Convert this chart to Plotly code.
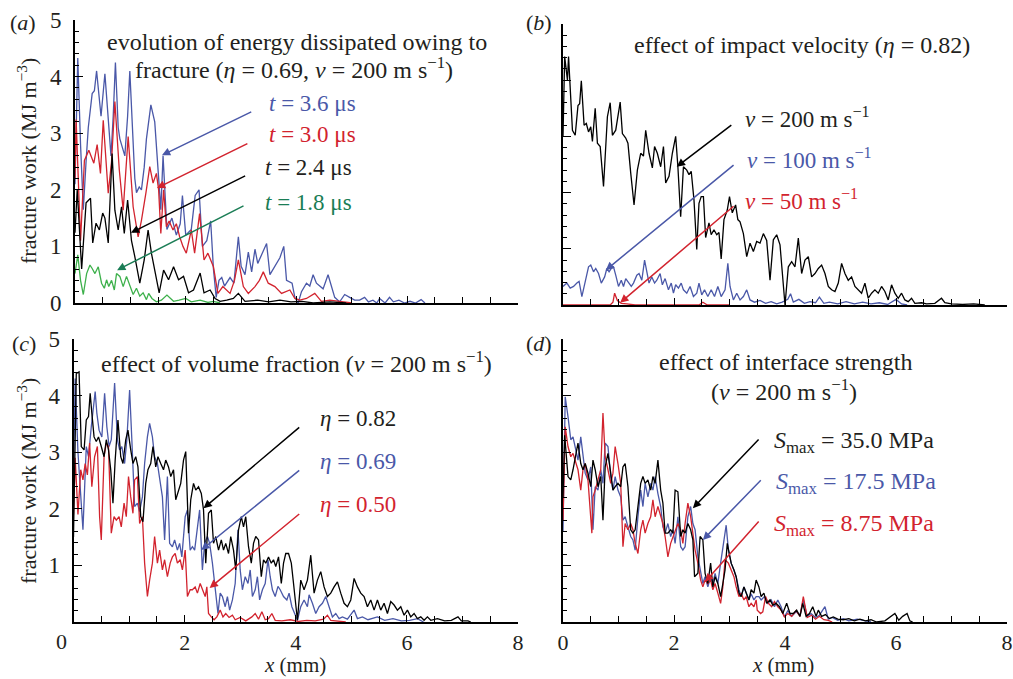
import plotly.graph_objects as go

FONT = "Liberation Serif, Times New Roman, serif"
TXT = "#231f20"
BLUE = "#4a58a8"
RED = "#d2232e"
BLACK = "#000000"
GREEN_LINE = "#3db04b"
GREEN_DARK = "#1a7d55"

W, H = 1013, 679

# ---------------- data (x in mm, fracture work in MJ m^-3) ----------------
# panel (a): eta = 0.69, v = 200 m/s, different times
A_T36 = [(0,2.1),(0.05,4.33),(0.10,2.8),(0.15,1.65),(0.20,2.5),(0.24,3.1),(0.31,3.7),(0.35,3.75),(0.39,4.1),(0.44,3.6),
         (0.47,3.3),(0.54,4.05),(0.60,3.2),(0.65,2.6),(0.69,3.3),(0.73,4.25),(0.78,3.1),(0.81,2.9),(0.90,2.6),(0.95,3.3),
         (0.99,4.1),(1.04,2.9),(1.08,2.2),(1.11,1.95),(1.16,2.05),(1.20,2.0),(1.25,2.4),(1.29,2.9),(1.37,3.5),(1.44,3.2),
         (1.50,2.4),(1.55,1.65),(1.59,2.6),(1.66,1.3),(1.75,1.5),(1.83,1.2),(1.90,1.4),(1.94,1.9),(2.00,1.2),(2.05,1.25),
         (2.10,1.3),(2.17,1.9),(2.24,2.0),(2.30,1.0),(2.38,1.1),(2.45,1.45),(2.50,0.6),(2.55,0.1),(2.60,0.4),(2.65,0.45),
         (2.70,0.3),(2.80,0.45),(2.87,0.35),(2.95,1.17),(3.00,0.65),(3.07,0.5),(3.13,0.9),(3.19,0.55),(3.25,0.95),(3.30,0.7),
         (3.37,0.85),(3.46,1.05),(3.52,0.5),(3.61,0.65),(3.70,0.8),(3.77,1.0),(3.82,0.4),(3.92,0.35),(3.97,0.1),(4.03,0.0),
         (4.09,0.2),(4.18,0.35),(4.24,0.3),(4.30,0.5),(4.36,0.35),(4.42,0.3),(4.48,0.25),(4.57,0.5),(4.63,0.3),(4.69,0.1),
         (4.78,0.02),(4.87,0.15),(4.96,0.1),(5.05,0.05),(5.14,0.05),(5.23,0.1),(5.30,0.02),(5.38,0.05),(5.45,0.0),(5.50,0.08),
         (5.60,0.0),(5.68,0.1),(5.75,0.02),(5.85,0.05),(5.95,0.0),(6.05,0.03),(6.15,0.0),(6.25,0.06),(6.32,0.0)]
A_T30 = [(0,2.2),(0.02,3.24),(0.10,1.1),(0.17,2.52),(0.25,2.7),(0.34,2.47),(0.40,2.8),(0.46,2.29),(0.51,3.23),(0.60,1.94),
         (0.66,2.5),(0.72,3.56),(0.80,2.35),(0.87,1.64),(0.96,2.94),(1.05,1.7),(1.14,1.17),(1.20,1.46),(1.28,1.94),(1.35,2.41),
         (1.41,2.12),(1.47,2.29),(1.51,2.0),(1.55,1.23),(1.60,2.0),(1.65,1.35),(1.70,1.45),(1.77,1.29),(1.83,1.4),(1.89,1.17),
         (1.95,1.0),(2.01,0.88),(2.10,1.29),(2.16,0.88),(2.25,1.58),(2.33,0.76),(2.40,0.88),(2.50,0.64),(2.58,0.17),(2.67,0.29),
         (2.80,0.17),(2.88,0.4),(2.95,0.76),(3.04,0.29),(3.13,0.17),(3.25,0.29),(3.33,0.4),(3.40,0.55),(3.49,0.35),(3.61,0.29),
         (3.73,0.17),(3.88,0.23),(3.97,0.08),(4.06,0.05),(4.18,0.08),(4.33,0.17),(4.45,0.03),(4.60,0.05),(4.78,0.03),(4.90,0.02),
         (5.00,0.0)]
A_T24 = [(0,1.24),(0.04,2.0),(0.12,0.6),(0.20,1.77),(0.28,1.85),(0.32,1.06),(0.38,1.41),(0.44,1.29),(0.50,1.59),(0.54,1.5),
         (0.60,1.06),(0.67,2.64),(0.72,1.64),(0.78,1.29),(0.84,1.7),(0.89,1.23),(0.95,1.82),(1.02,1.1),(1.08,0.82),(1.17,0.35),
         (1.25,0.76),(1.32,1.29),(1.38,0.88),(1.46,0.47),(1.52,0.18),(1.60,0.58),(1.69,0.41),(1.78,0.64),(1.87,0.41),(1.96,0.47),
         (2.05,0.18),(2.14,0.23),(2.26,0.53),(2.33,0.18),(2.44,0.23),(2.53,0.08),(2.62,0.03),(2.74,0.05),(2.86,0.08),(2.95,0.17),
         (3.07,0.03),(3.30,0.05),(3.50,0.02),(3.70,0.05),(3.90,0.02),(4.10,0.03),(4.30,0.0),(4.60,0.02),(4.90,0.0)]
A_T18 = [(0,0.52),(0.05,0.85),(0.10,0.4),(0.15,0.15),(0.21,0.52),(0.27,0.67),(0.31,0.61),(0.36,0.52),(0.42,0.64),(0.48,0.35),
         (0.53,0.26),(0.57,0.41),(0.61,0.29),(0.66,0.4),(0.71,0.23),(0.75,0.52),(0.81,0.47),(0.87,0.29),(0.93,0.47),(0.99,0.29),
         (1.05,0.15),(1.11,0.26),(1.17,0.12),(1.23,0.18),(1.29,0.06),(1.33,0.17),(1.39,0.08),(1.47,0.02),(1.56,0.05),(1.66,0.14),
         (1.78,0.03),(1.88,0.05),(2.00,0.08),(2.10,0.02),(2.26,0.05),(2.40,0.01),(2.50,0.03),(2.62,0.0)]

# panel (b): eta = 0.82, different impact velocities
B_V200 = [(0,3.0),(0.03,4.42),(0.08,4.0),(0.10,4.42),(0.17,3.11),(0.22,3.02),(0.27,3.55),(0.30,3.58),(0.33,3.99),(0.38,3.2),
          (0.42,3.23),(0.46,3.08),(0.50,3.17),(0.53,2.91),(0.58,3.5),(0.62,2.88),(0.67,2.82),(0.73,2.11),(0.80,3.35),(0.85,3.6),
          (0.89,3.02),(0.95,3.11),(1.03,3.61),(1.07,3.05),(1.13,2.97),(1.17,2.88),(1.22,2.35),(1.28,1.78),(1.34,2.4),(1.40,2.7),
          (1.45,2.65),(1.49,3.11),(1.55,2.7),(1.61,2.44),(1.65,2.82),(1.70,2.7),(1.76,2.46),(1.81,2.82),(1.85,2.17),(1.91,2.29),
          (1.97,2.7),(2.03,3.0),(2.07,2.46),(2.12,1.57),(2.17,2.46),(2.23,2.4),(2.27,2.32),(2.31,2.38),(2.36,1.87),(2.41,0.99),
          (2.45,1.81),(2.49,1.93),(2.53,1.93),(2.57,1.2),(2.63,1.46),(2.67,1.25),(2.72,1.34),(2.77,1.25),(2.81,1.29),(2.85,0.82),
          (2.90,1.52),(2.96,1.69),(3.00,1.93),(3.05,1.64),(3.11,1.78),(3.15,1.52),(3.19,1.48),(3.25,1.27),(3.31,0.86),(3.37,1.1),
          (3.43,0.95),(3.49,1.13),(3.55,1.1),(3.61,1.27),(3.67,1.15),(3.73,0.44),(3.79,1.16),(3.85,1.25),(3.91,1.07),(4.00,0.0),
          (4.06,0.68),(4.12,0.77),(4.18,0.68),(4.24,1.19),(4.30,0.56),(4.36,0.8),(4.42,0.86),(4.48,0.5),(4.54,0.56),(4.60,0.65),
          (4.66,0.71),(4.72,0.56),(4.78,0.33),(4.84,0.27),(4.90,0.24),(4.96,0.39),(5.02,0.74),(5.08,0.56),(5.14,0.44),(5.20,0.5),
          (5.26,0.33),(5.32,0.27),(5.38,0.21),(5.44,0.39),(5.50,0.12),(5.56,0.21),(5.62,0.27),(5.68,0.21),(5.74,0.33),(5.80,0.24),
          (5.86,0.09),(5.92,0.36),(5.98,0.21),(6.04,0.12),(6.10,0.21),(6.16,0.09),(6.22,0.06),(6.28,0.12),(6.34,0.03),(6.46,0.04),
          (6.55,0.02),(6.70,0.03),(6.82,0.12),(6.88,0.04),(7.00,0.02),(7.20,0.01),(7.40,0.02),(7.60,0.0)]
B_V100 = [(0,0.33),(0.07,0.39),(0.13,0.3),(0.19,0.33),(0.25,0.39),(0.29,0.42),(0.34,0.15),(0.40,0.39),(0.46,0.68),(0.50,0.71),
          (0.55,0.59),(0.59,0.65),(0.64,0.56),(0.69,0.39),(0.75,0.5),(0.79,0.65),(0.83,0.59),(0.87,0.65),(0.91,0.68),(0.95,0.53),
          (1.00,0.33),(1.05,0.44),(1.09,0.33),(1.13,0.47),(1.18,0.39),(1.23,0.33),(1.27,0.39),(1.33,0.53),(1.37,0.56),(1.42,0.44),
          (1.47,0.8),(1.51,0.56),(1.55,0.39),(1.60,0.5),(1.65,0.39),(1.69,0.44),(1.75,0.56),(1.79,0.36),(1.84,0.47),(1.90,0.27),
          (1.95,0.39),(1.99,0.21),(2.03,0.36),(2.08,0.3),(2.13,0.39),(2.17,0.27),(2.23,0.21),(2.29,0.33),(2.35,0.15),(2.41,0.21),
          (2.45,0.39),(2.50,0.18),(2.55,0.27),(2.61,0.15),(2.67,0.27),(2.73,0.15),(2.79,0.33),(2.85,0.15),(2.92,0.27),(2.97,0.74),
          (3.01,0.33),(3.07,0.09),(3.13,0.21),(3.19,0.09),(3.25,0.15),(3.31,0.27),(3.37,0.09),(3.45,0.05),(3.55,0.08),(3.65,0.03),
          (3.75,0.06),(3.85,0.02),(3.95,0.05),(4.05,0.1),(4.10,0.2),(4.15,0.05),(4.25,0.1),(4.35,0.03),(4.45,0.06),(4.55,0.04),
          (4.62,0.14),(4.70,0.03),(4.80,0.05),(4.95,0.02),(5.10,0.06),(5.25,0.02),(5.40,0.05),(5.55,0.02),(5.70,0.04),(5.85,0.01),
          (6.00,0.1),(6.10,0.02),(6.20,0.0)]
B_V50 = [(0,0.0),(0.85,0.0),(0.90,0.05),(0.93,0.21),(0.98,0.08),(1.05,0.03),(1.15,0.02),(1.30,0.0),(2.45,0.0),(2.52,0.05),
         (2.60,0.0),(3.00,0.0)]

# panel (c): v = 200 m/s, different volume fractions
C_E82 = [(0,1.5),(0.05,4.39),(0.10,4.42),(0.14,3.1),(0.19,3.04),(0.23,3.57),(0.27,3.63),(0.30,4.04),(0.33,3.69),(0.37,3.27),
         (0.41,3.19),(0.45,3.27),(0.50,3.1),(0.55,2.92),(0.59,3.22),(0.63,3.04),(0.67,2.69),(0.71,2.1),(0.75,2.86),(0.80,3.57),
         (0.85,2.92),(0.89,2.8),(0.94,3.22),(0.98,3.39),(1.03,3.04),(1.07,2.8),(1.12,2.92),(1.16,2.74),(1.21,1.86),(1.25,1.77),
         (1.30,2.45),(1.34,2.69),(1.39,2.8),(1.43,3.1),(1.48,2.74),(1.52,2.92),(1.57,2.8),(1.62,2.69),(1.66,2.86),(1.71,2.74),
         (1.75,2.57),(1.80,2.69),(1.84,2.16),(1.89,2.33),(1.93,2.45),(1.98,2.86),(2.02,3.01),(2.07,1.57),(2.11,2.16),(2.16,2.45),
         (2.20,2.33),(2.25,2.39),(2.30,2.27),(2.34,1.98),(2.38,1.04),(2.43,1.92),(2.48,1.98),(2.52,1.39),(2.56,1.51),(2.61,1.27),
         (2.66,1.45),(2.70,1.27),(2.74,1.39),(2.79,1.21),(2.83,1.51),(2.88,1.27),(2.92,0.92),(2.97,1.63),(3.02,1.86),(3.06,1.68),
         (3.10,1.86),(3.15,1.33),(3.20,1.04),(3.24,1.39),(3.28,1.51),(3.33,1.45),(3.38,0.8),(3.42,1.1),(3.46,1.04),(3.51,1.15),
         (3.56,1.04),(3.60,1.1),(3.64,0.98),(3.69,1.15),(3.74,0.68),(3.78,1.04),(3.82,1.21),(3.87,1.21),(3.92,1.04),(3.96,0.68),
         (4.03,0.03),(4.09,0.74),(4.15,0.57),(4.21,0.74),(4.27,1.18),(4.33,0.51),(4.39,0.74),(4.45,0.89),(4.51,0.62),(4.57,0.45),
         (4.63,0.51),(4.69,0.62),(4.75,0.71),(4.81,0.51),(4.87,0.33),(4.93,0.27),(4.99,0.39),(5.05,0.77),(5.11,0.62),(5.17,0.51),
         (5.23,0.45),(5.29,0.27),(5.35,0.39),(5.41,0.21),(5.47,0.39),(5.53,0.21),(5.59,0.33),(5.65,0.15),(5.71,0.36),(5.77,0.3),
         (5.83,0.21),(5.89,0.27),(5.95,0.12),(6.01,0.21),(6.07,0.09),(6.13,0.15),(6.19,0.06),(6.25,0.09),(6.31,0.03),(6.37,0.09),
         (6.43,0.03),(6.55,0.06),(6.68,0.02),(6.80,0.03),(6.92,0.09),(6.98,0.02),(7.10,0.02),(7.15,0.0)]
C_E69 = [(0,2.5),(0.03,4.3),(0.08,3.0),(0.17,1.63),(0.23,3.1),(0.27,2.92),(0.32,3.45),(0.39,4.07),(0.42,3.69),(0.46,3.39),
         (0.51,3.27),(0.56,4.04),(0.60,3.45),(0.64,3.1),(0.68,3.22),(0.74,4.22),(0.79,3.22),(0.83,3.04),(0.87,3.1),(0.92,2.8),
         (0.96,3.22),(1.01,4.1),(1.05,3.22),(1.10,2.04),(1.15,2.1),(1.19,1.95),(1.24,2.21),(1.28,2.8),(1.33,3.27),(1.37,3.51),
         (1.42,3.27),(1.46,2.92),(1.51,2.8),(1.55,2.51),(1.60,2.21),(1.64,1.45),(1.69,2.57),(1.73,1.39),(1.78,1.33),(1.82,1.45),
         (1.87,1.27),(1.91,1.39),(1.95,1.15),(2.01,1.86),(2.05,1.98),(2.10,1.27),(2.14,1.33),(2.18,1.27),(2.23,1.63),(2.27,1.98),
         (2.32,0.92),(2.36,1.39),(2.41,1.51),(2.45,1.39),(2.50,1.04),(2.55,0.57),(2.60,0.15),(2.64,0.51),(2.68,0.45),(2.73,0.27),
         (2.77,0.45),(2.81,0.21),(2.86,0.39),(2.91,0.68),(2.96,1.63),(3.00,0.92),(3.04,0.57),(3.09,0.8),(3.14,0.68),(3.18,0.92),
         (3.22,0.45),(3.27,0.57),(3.31,0.8),(3.35,0.39),(3.40,0.57),(3.45,0.68),(3.50,1.1),(3.54,0.8),(3.58,0.57),(3.63,0.45),
         (3.68,0.63),(3.72,0.57),(3.78,0.45),(3.84,0.39),(3.88,0.51),(3.93,0.27),(4.00,0.09),(4.03,0.03),(4.09,0.27),(4.15,0.39),
         (4.21,0.27),(4.24,0.48),(4.30,0.33),(4.36,0.15),(4.42,0.27),(4.48,0.33),(4.54,0.45),(4.60,0.27),(4.66,0.09),(4.72,0.15),
         (4.78,0.06),(4.84,0.09),(4.93,0.05),(5.05,0.21),(5.11,0.06),(5.20,0.09),(5.30,0.04),(5.47,0.09),(5.60,0.03),(5.75,0.06),
         (5.90,0.02),(6.05,0.03),(6.19,0.06),(6.30,0.0)]
C_E50 = [(0,1.9),(0.03,2.9),(0.08,1.9),(0.13,2.69),(0.17,2.51),(0.21,2.8),(0.25,2.6),(0.29,3.16),(0.33,2.39),(0.38,2.92),
         (0.43,3.1),(0.47,1.86),(0.50,1.45),(0.55,2.92),(0.59,3.16),(0.63,3.1),(0.68,1.57),(0.73,1.86),(0.77,1.8),(0.82,1.86),
         (0.86,1.68),(0.91,2.1),(0.95,1.86),(0.99,2.57),(1.03,2.21),(1.07,1.92),(1.10,2.51),(1.15,2.57),(1.19,1.74),(1.24,1.86),
         (1.28,1.04),(1.33,0.45),(1.37,0.74),(1.42,1.04),(1.46,1.51),(1.51,1.04),(1.55,1.27),(1.60,0.92),(1.64,1.1),(1.69,0.8),
         (1.74,1.04),(1.78,1.15),(1.83,1.21),(1.87,1.04),(1.92,1.1),(1.96,0.92),(2.01,1.27),(2.05,0.45),(2.10,0.57),(2.14,0.57),
         (2.19,0.62),(2.23,0.51),(2.28,0.68),(2.32,0.57),(2.37,0.45),(2.40,0.62),(2.43,0.15),(2.48,0.09),(2.53,0.04),(2.58,0.09),
         (2.64,0.21),(2.69,0.09),(2.74,0.15),(2.80,0.08),(2.86,0.12),(2.91,0.04),(3.00,0.08),(3.10,0.02),(3.21,0.09),(3.27,0.15),
         (3.33,0.05),(3.39,0.18),(3.45,0.04),(3.51,0.06),(3.57,0.15),(3.63,0.03),(3.75,0.02),(3.90,0.04),(4.05,0.01),(4.20,0.03),
         (4.35,0.02),(4.50,0.05),(4.57,0.12),(4.63,0.03),(4.75,0.02),(4.90,0.0)]

# panel (d): v = 200 m/s, different interface strengths
D_S35 = [(0,2.2),(0.03,3.3),(0.09,2.57),(0.14,2.51),(0.18,2.69),(0.22,2.92),(0.27,3.16),(0.32,2.8),(0.36,2.69),(0.40,2.8),
         (0.45,2.63),(0.50,2.39),(0.54,2.86),(0.58,2.69),(0.63,2.39),(0.68,2.57),(0.72,1.8),(0.76,2.74),(0.81,2.98),(0.86,2.63),
         (0.90,2.33),(0.94,2.39),(0.99,2.45),(1.04,2.39),(1.08,2.74),(1.12,2.8),(1.17,2.39),(1.22,1.63),(1.26,1.57),(1.30,1.63),
         (1.35,2.1),(1.40,2.45),(1.44,2.57),(1.48,2.45),(1.53,2.51),(1.58,2.33),(1.62,2.57),(1.66,2.45),(1.71,2.86),(1.76,2.33),
         (1.80,2.1),(1.84,1.57),(1.89,1.57),(1.94,1.63),(1.98,1.57),(2.02,2.33),(2.07,2.3),(2.12,1.51),(2.16,1.63),(2.20,1.57),
         (2.25,1.74),(2.30,1.63),(2.34,1.45),(2.37,0.8),(2.43,0.86),(2.47,1.51),(2.52,1.45),(2.56,0.86),(2.61,0.68),(2.66,1.04),
         (2.70,0.62),(2.74,0.8),(2.79,0.68),(2.84,0.45),(2.88,0.68),(2.92,0.92),(2.96,1.39),(3.03,1.04),(3.08,0.92),(3.12,0.8),
         (3.17,0.51),(3.21,0.45),(3.26,0.62),(3.30,0.51),(3.35,0.39),(3.39,0.57),(3.44,0.51),(3.48,0.74),(3.53,0.62),(3.57,0.45),
         (3.62,0.51),(3.67,0.33),(3.73,0.39),(3.78,0.3),(3.84,0.33),(3.90,0.27),(3.96,0.15),(4.03,0.33),(4.09,0.15),(4.15,0.15),
         (4.21,0.21),(4.27,0.1),(4.32,0.33),(4.38,0.1),(4.44,0.15),(4.50,0.27),(4.56,0.1),(4.60,0.21),(4.66,0.1),(4.73,0.13),
         (4.80,0.06),(4.87,0.09),(4.95,0.05),(5.05,0.04),(5.15,0.06),(5.25,0.02),(5.35,0.05),(5.45,0.02),(5.55,0.04),(5.65,0.0),
         (5.80,0.02),(5.98,0.15),(6.05,0.03),(6.12,0.1),(6.20,0.15),(6.25,0.02),(6.30,0.0)]
D_S175 = [(0,1.6),(0.04,3.98),(0.09,3.63),(0.14,3.22),(0.18,3.27),(0.22,3.1),(0.27,2.86),(0.32,3.27),(0.36,2.92),(0.40,2.63),
          (0.45,2.51),(0.50,2.74),(0.54,1.63),(0.58,2.39),(0.63,2.33),(0.68,2.69),(0.72,2.45),(0.76,3.16),(0.81,3.1),(0.86,2.57),
          (0.90,2.33),(0.94,2.57),(0.99,2.33),(1.04,2.21),(1.08,1.8),(1.12,1.86),(1.17,1.68),(1.22,1.51),(1.26,1.45),(1.30,1.27),
          (1.35,1.86),(1.40,2.33),(1.44,2.04),(1.48,2.45),(1.53,2.21),(1.58,2.45),(1.62,2.33),(1.66,2.57),(1.71,2.27),(1.76,2.04),
          (1.80,1.68),(1.84,1.57),(1.89,1.74),(1.94,1.51),(1.98,1.63),(2.02,1.39),(2.07,1.86),(2.12,1.33),(2.16,1.27),(2.20,1.33),
          (2.25,1.86),(2.30,2.04),(2.34,1.74),(2.38,1.63),(2.43,1.15),(2.48,0.92),(2.52,0.68),(2.56,0.8),(2.61,0.62),(2.66,0.8),
          (2.70,0.68),(2.74,0.86),(2.79,0.68),(2.84,1.04),(2.88,1.33),(2.94,1.71),(2.98,1.27),(3.03,1.04),(3.08,0.92),(3.12,0.8),
          (3.17,0.57),(3.21,0.45),(3.26,0.62),(3.30,0.5),(3.35,0.39),(3.39,0.5),(3.44,0.39),(3.48,0.45),(3.53,0.45),(3.57,0.39),
          (3.63,0.45),(3.69,0.33),(3.75,0.39),(3.81,0.27),(3.87,0.39),(3.93,0.27),(3.99,0.09),(4.05,0.2),(4.12,0.1),(4.20,0.18),
          (4.27,0.12),(4.33,0.39),(4.40,0.1),(4.47,0.15),(4.55,0.08),(4.62,0.12),(4.72,0.27),(4.78,0.05),(4.85,0.08),(4.95,0.03),
          (5.05,0.06),(5.15,0.02),(5.30,0.05),(5.45,0.02),(5.55,0.0)]
D_S875 = [(0,1.8),(0.04,3.45),(0.09,3.1),(0.14,2.92),(0.18,2.98),(0.22,2.86),(0.27,2.69),(0.32,2.33),(0.36,2.69),(0.40,2.8),
          (0.45,2.51),(0.52,1.57),(0.54,2.21),(0.58,2.33),(0.63,2.51),(0.68,2.69),(0.72,3.69),(0.76,2.92),(0.81,2.69),(0.86,2.45),
          (0.90,2.63),(0.94,3.1),(0.99,2.8),(1.04,2.45),(1.08,1.33),(1.12,1.74),(1.17,1.63),(1.22,1.74),(1.26,1.63),(1.30,1.39),
          (1.35,1.21),(1.40,1.63),(1.44,1.8),(1.48,1.57),(1.53,1.74),(1.58,1.86),(1.62,2.16),(1.66,1.86),(1.71,2.04),(1.76,1.86),
          (1.80,1.74),(1.84,1.51),(1.89,1.15),(1.94,1.39),(1.98,1.51),(2.02,1.63),(2.07,1.74),(2.12,1.63),(2.16,1.39),(2.20,1.74),
          (2.25,2.1),(2.30,1.86),(2.34,1.57),(2.38,1.27),(2.43,1.04),(2.48,0.74),(2.52,0.62),(2.56,0.74),(2.61,0.68),(2.66,0.74),
          (2.70,0.57),(2.74,0.68),(2.79,0.51),(2.84,0.33),(2.88,0.62),(2.92,1.1),(2.98,1.04),(3.03,0.92),(3.08,0.8),(3.12,0.62),
          (3.17,0.45),(3.21,0.51),(3.26,0.39),(3.30,0.45),(3.35,0.27),(3.39,0.33),(3.44,0.27),(3.48,0.39),(3.50,0.21),(3.56,0.15),
          (3.60,0.18),(3.65,0.45),(3.70,0.33),(3.76,0.27),(3.81,0.36),(3.87,0.27),(3.93,0.21),(3.99,0.09),(4.05,0.15),(4.12,0.1),
          (4.20,0.2),(4.27,0.1),(4.33,0.45),(4.40,0.08),(4.48,0.12),(4.55,0.05),(4.62,0.1),(4.70,0.04),(4.78,0.03),(4.85,0.0)]

X_TICKS = [0, 2, 4, 6, 8]
Y_TICKS = [0, 1, 2, 3, 4, 5]

# ---------------- figure ----------------
fig = go.Figure()

def add(series, color, ax):
    xs = [p[0] for p in series]
    ys = [p[1] for p in series]
    fig.add_trace(go.Scatter(x=xs, y=ys, mode="lines", line=dict(color=color, width=1.3),
                             xaxis="x" + ax, yaxis="y" + ax, showlegend=False, hoverinfo="skip"))

add(A_T36, BLUE, "")
add(A_T30, RED, "")
add(A_T24, BLACK, "")
add(A_T18, GREEN_LINE, "")
add(B_V50, RED, "2")
add(B_V100, BLUE, "2")
add(B_V200, BLACK, "2")
add(C_E69, BLUE, "3")
add(C_E50, RED, "3")
add(C_E82, BLACK, "3")
add(D_S175, BLUE, "4")
add(D_S875, RED, "4")
add(D_S35, BLACK, "4")

def px_x(a, b):
    return [a / W, b / W]

def px_y(top, bottom):
    return [1 - bottom / H, 1 - top / H]

def xaxis(dom, anchor, labels, tickvals=X_TICKS):
    return dict(domain=dom, anchor=anchor, range=[0, 8], showline=True, linecolor="black", linewidth=2,
                ticks="inside", ticklen=7, tickwidth=1.3, tickcolor="black", tickvals=tickvals,
                minor=dict(dtick=0.5, ticks="inside", ticklen=6, tickwidth=1.3, tickcolor="black"),
                showticklabels=labels, tickfont=dict(family=FONT, size=22, color=TXT),
                showgrid=False, zeroline=False, ticklabelstandoff=0, automargin=False, fixedrange=True)

def yaxis(dom, anchor, labels, tickvals=Y_TICKS):
    return dict(domain=dom, anchor=anchor, range=[0, 5], showline=True, linecolor="black", linewidth=2,
                ticks="inside", ticklen=8, tickwidth=1.3, tickcolor="black", tickvals=tickvals,
                minor=dict(dtick=0.2, ticks="inside", ticklen=4, tickwidth=1.3, tickcolor="black"),
                showticklabels=labels, tickfont=dict(family=FONT, size=23, color=TXT),
                showgrid=False, zeroline=False, ticklabelstandoff=7, automargin=False, fixedrange=True)

fig.update_layout(
    width=W, height=H, margin=dict(l=0, r=0, t=0, b=0, pad=0, autoexpand=False),
    paper_bgcolor="white", plot_bgcolor="white",
    font=dict(family=FONT, color=TXT),
    xaxis=xaxis(px_x(75, 518), "y", False),
    yaxis=yaxis(px_y(20, 303), "x", True),
    xaxis2=xaxis(px_x(563, 1007), "y2", False),
    yaxis2=yaxis(px_y(24, 305), "x2", False),
    xaxis3=xaxis(px_x(73.5, 518), "y3", True, [2, 4, 6, 8]),
    yaxis3=yaxis(px_y(339, 622), "x3", True, [1, 2, 3, 4, 5]),
    xaxis4=xaxis(px_x(563, 1007), "y4", True),
    yaxis4=yaxis(px_y(339, 622), "x4", False),
)

def text(t, x, y, ax, color=TXT, size=24, xanchor="center", yanchor="middle"):
    fig.add_annotation(text=t, x=x, y=y, xref="x" + ax, yref="y" + ax, showarrow=False,
                       font=dict(family=FONT, size=size, color=color), xanchor=xanchor, yanchor=yanchor)

def arrow(head, tail, ax, color):
    fig.add_annotation(text="", x=head[0], y=head[1], ax=tail[0], ay=tail[1],
                       xref="x" + ax, yref="y" + ax, axref="x" + ax, ayref="y" + ax,
                       showarrow=True, arrowhead=2, arrowsize=1.1, arrowwidth=1.5, arrowcolor=color)

def ptext(t, px, py, size=22, angle=0, yanchor="middle"):
    fig.add_annotation(text=t, x=px / W, y=1 - py / H, xref="paper", yref="paper", showarrow=False,
                       font=dict(family=FONT, size=size, color=TXT), textangle=angle,
                       xanchor="center", yanchor=yanchor)

# panel labels and axis titles
ptext("(<i>a</i>)", 23, 23)
ptext("(<i>b</i>)", 539, 23)
ptext("(<i>c</i>)", 24, 343)
ptext("(<i>d</i>)", 539, 343)
ptext("fracture work (MJ m<sup>−3</sup>)", 27, 161, angle=-90)
ptext("fracture work (MJ m<sup>−3</sup>)", 27, 481, angle=-90)
ptext("<i>x</i> (mm)", 295, 679, size=21, yanchor="bottom")
ptext("<i>x</i> (mm)", 783, 679, size=21, yanchor="bottom")
ptext("0", 61, 641, size=22)

# panel (a)
text("evolution of energy dissipated owing to", 4.0, 4.61, "")
text("fracture (<i>η</i> = 0.69, <i>v</i> = 200 m s<sup>−1</sup>)", 3.95, 4.15, "")
text("<i>t</i> = 3.6 μs", 3.47, 3.53, "", BLUE, size=23, xanchor="left")
text("<i>t</i> = 3.0 μs", 3.47, 2.97, "", RED, size=23, xanchor="left")
text("<i>t</i> = 2.4 μs", 3.39, 2.39, "", TXT, size=23, xanchor="left")
text("<i>t</i> = 1.8 μs", 3.39, 1.78, "", GREEN_DARK, size=23, xanchor="left")
arrow((1.57, 2.61), (3.21, 3.39), "", BLUE)
arrow((1.48, 2.03), (3.14, 2.83), "", RED)
arrow((1.01, 1.24), (3.10, 2.26), "", BLACK)
arrow((0.76, 0.58), (3.07, 1.73), "", GREEN_DARK)

# panel (b)
text("effect of impact velocity (<i>η</i> = 0.82)", 4.31, 4.63, "2")
text("<i>v</i> = 200 m s<sup>−1</sup>", 3.24, 3.33, "2", TXT, size=23, xanchor="left")
text("<i>v</i> = 100 m s<sup>−1</sup>", 3.28, 2.6, "2", BLUE, size=23, xanchor="left")
text("<i>v</i> = 50 m s<sup>−1</sup>", 3.24, 1.87, "2", RED, size=23, xanchor="left")
arrow((2.05, 2.46), (3.06, 3.22), "2", BLACK)
arrow((0.77, 0.62), (3.10, 2.51), "2", BLUE)
arrow((1.03, 0.04), (3.10, 1.78), "2", RED)

# panel (c)
text("effect of volume fraction (<i>v</i> = 200 m s<sup>−1</sup>)", 4.02, 4.59, "3")
text("<i>η</i> = 0.82", 4.4, 3.6, "3", TXT, size=23, xanchor="left")
text("<i>η</i> = 0.69", 4.4, 2.83, "3", BLUE, size=23, xanchor="left")
text("<i>η</i> = 0.50", 4.4, 2.08, "3", RED, size=23, xanchor="left")
arrow((2.34, 2.01), (4.09, 3.46), "3", BLACK)
arrow((2.30, 1.27), (4.09, 2.70), "3", BLUE)
arrow((2.45, 0.60), (4.09, 1.93), "3", RED)

# panel (d)
text("effect of interface strength", 4.0, 4.59, "4")
text("(<i>v</i> = 200 m s<sup>−1</sup>)", 3.98, 4.10, "4")
text("<i>S</i><sub>max</sub> = 35.0 MPa", 3.77, 3.18, "4", TXT, xanchor="left")
text("<i>S</i><sub>max</sub> = 17.5 MPa", 3.80, 2.46, "4", BLUE, xanchor="left")
text("<i>S</i><sub>max</sub> = 8.75 MPa", 3.77, 1.71, "4", RED, xanchor="left")
arrow((2.34, 2.01), (3.55, 3.25), "4", BLACK)
arrow((2.52, 1.45), (3.59, 2.53), "4", BLUE)
arrow((2.56, 0.71), (3.55, 1.80), "4", RED)

fig.write_html("out.html")
